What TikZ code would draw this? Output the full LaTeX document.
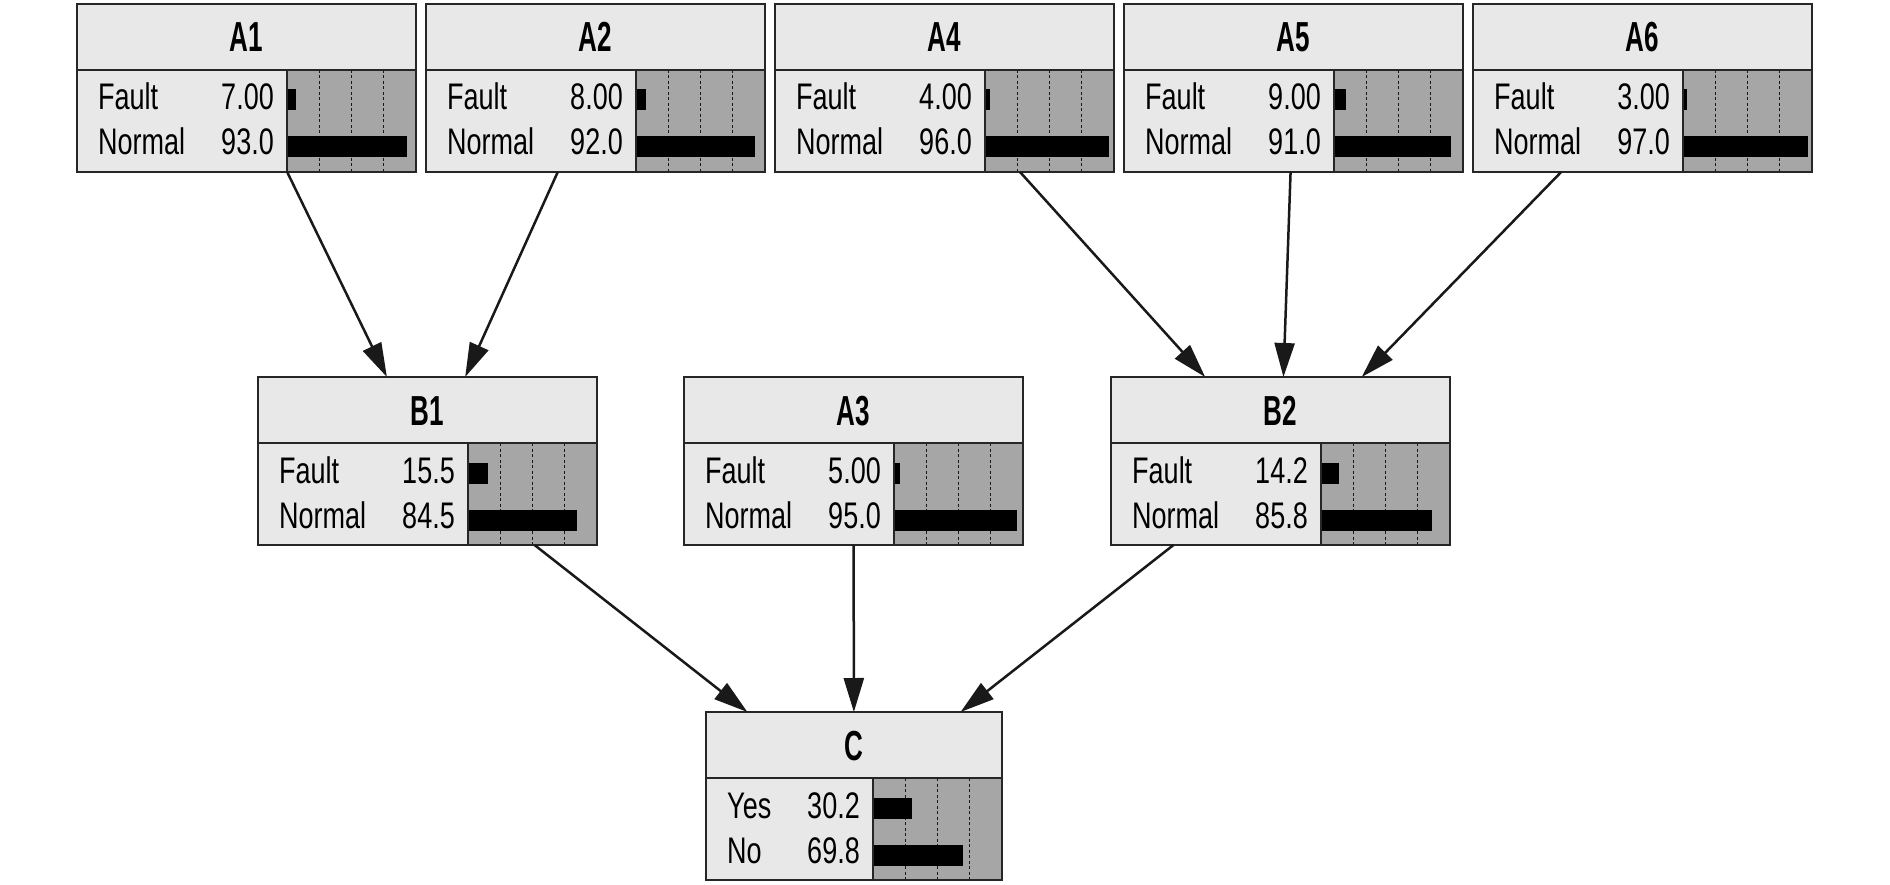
\documentclass[tikz,border=0pt]{standalone}
\usepackage{fontspec}
\setmainfont{Liberation Sans}[FakeStretch=0.73]
\newfontfamily\bntitlefont{Liberation Sans}[FakeStretch=0.62]
\usetikzlibrary{arrows.meta}
\tikzstyle{bnbox} = [rectangle, fill=black!9, minimum height=168pt, inner sep=0pt, outer sep=0pt]
\tikzstyle{bnframe} = [draw=black!85, line width=2.5pt]
\tikzstyle{bnline} = [draw=black!85, line width=2pt]
\tikzstyle{bnbar} = [fill=black!35]
\tikzstyle{bngrid} = [draw=black!90, line width=1.4pt, dash pattern=on 3pt off 2.5pt]
\tikzstyle{bntitle} = [anchor=base, inner sep=0pt, font=\fontsize{42}{46}\bntitlefont\bfseries]
\tikzstyle{bnstate} = [anchor=base west, inner sep=0pt, font=\fontsize{37}{42}\selectfont]
\tikzstyle{bnvalue} = [anchor=base east, inner sep=0pt, font=\fontsize{37}{42}\selectfont]
\tikzstyle{bnarrow} = [-{Triangle[length=34pt,width=20pt]}, line width=2.5pt, black!90]
% name, left, top, width, title, state 1, value 1, state 2, value 2
\newcommand{\bnnode}[9]{%
  \node[bnbox, minimum width=#4pt, anchor=north west] (#1) at (#2,#3) {};
  \fill[bnbar] ({#2+#4-129},{#3+66}) rectangle ({#2+#4},{#3+168});
  \foreach \q in {1,2,3}
    \draw[bngrid] ({#2+#4-129+\q*32.25},{#3+66}) -- ++(0,102);
  \fill ({#2+#4-129},{#3+85.5}) rectangle ++({#7*1.29},21);
  \fill ({#2+#4-129},{#3+132.5}) rectangle ++({#9*1.29},21);
  \draw[bnline] ({#2+#4-129},{#3+66}) -- ++(0,102);
  \draw[bnframe] (#2,{#3+66}) -- ++(#4,0);
  \draw[bnframe] (#1.north west) rectangle (#1.south east);
  \node[bntitle] (#1-title) at ({#2+#4/2},{#3+48}) {#5};
  \node[bnstate] (#1-s1) at ({#2+21},{#3+106}) {#6};
  \node[bnvalue] (#1-v1) at ({#2+#4-142},{#3+106}) {#7};
  \node[bnstate] (#1-s2) at ({#2+21},{#3+151}) {#8};
  \node[bnvalue] (#1-v2) at ({#2+#4-142},{#3+151}) {#9};
}

\begin{document}
\begin{tikzpicture}[x=1pt, y=-1pt]
	\useasboundingbox (0,0) rectangle (1890,885);
	% parent nodes
	\bnnode{a1}{77}{4}{339}{A1}{Fault}{7.00}{Normal}{93.0}
	\bnnode{a2}{426}{4}{339}{A2}{Fault}{8.00}{Normal}{92.0}
	\bnnode{a4}{775}{4}{339}{A4}{Fault}{4.00}{Normal}{96.0}
	\bnnode{a5}{1124}{4}{339}{A5}{Fault}{9.00}{Normal}{91.0}
	\bnnode{a6}{1473}{4}{339}{A6}{Fault}{3.00}{Normal}{97.0}
	% middle nodes
	\bnnode{b1}{258}{377}{339}{B1}{Fault}{15.5}{Normal}{84.5}
	\bnnode{a3}{684}{377}{339}{A3}{Fault}{5.00}{Normal}{95.0}
	\bnnode{b2}{1111}{377}{339}{B2}{Fault}{14.2}{Normal}{85.8}
	% result node
	\bnnode{c}{706}{712}{296}{C}{Yes}{30.2}{No}{69.8}
	\draw [bnarrow] (a1) -- (b1);
	\draw [bnarrow] (a2) -- (b1);
	\draw [bnarrow] (a4) -- (b2);
	\draw [bnarrow] (a5) -- (b2);
	\draw [bnarrow] (a6) -- (b2);
	\draw [bnarrow] (b1) -- (c);
	\draw [bnarrow] (a3) -- (c);
	\draw [bnarrow] (b2) -- (c);
\end{tikzpicture}
\end{document}
